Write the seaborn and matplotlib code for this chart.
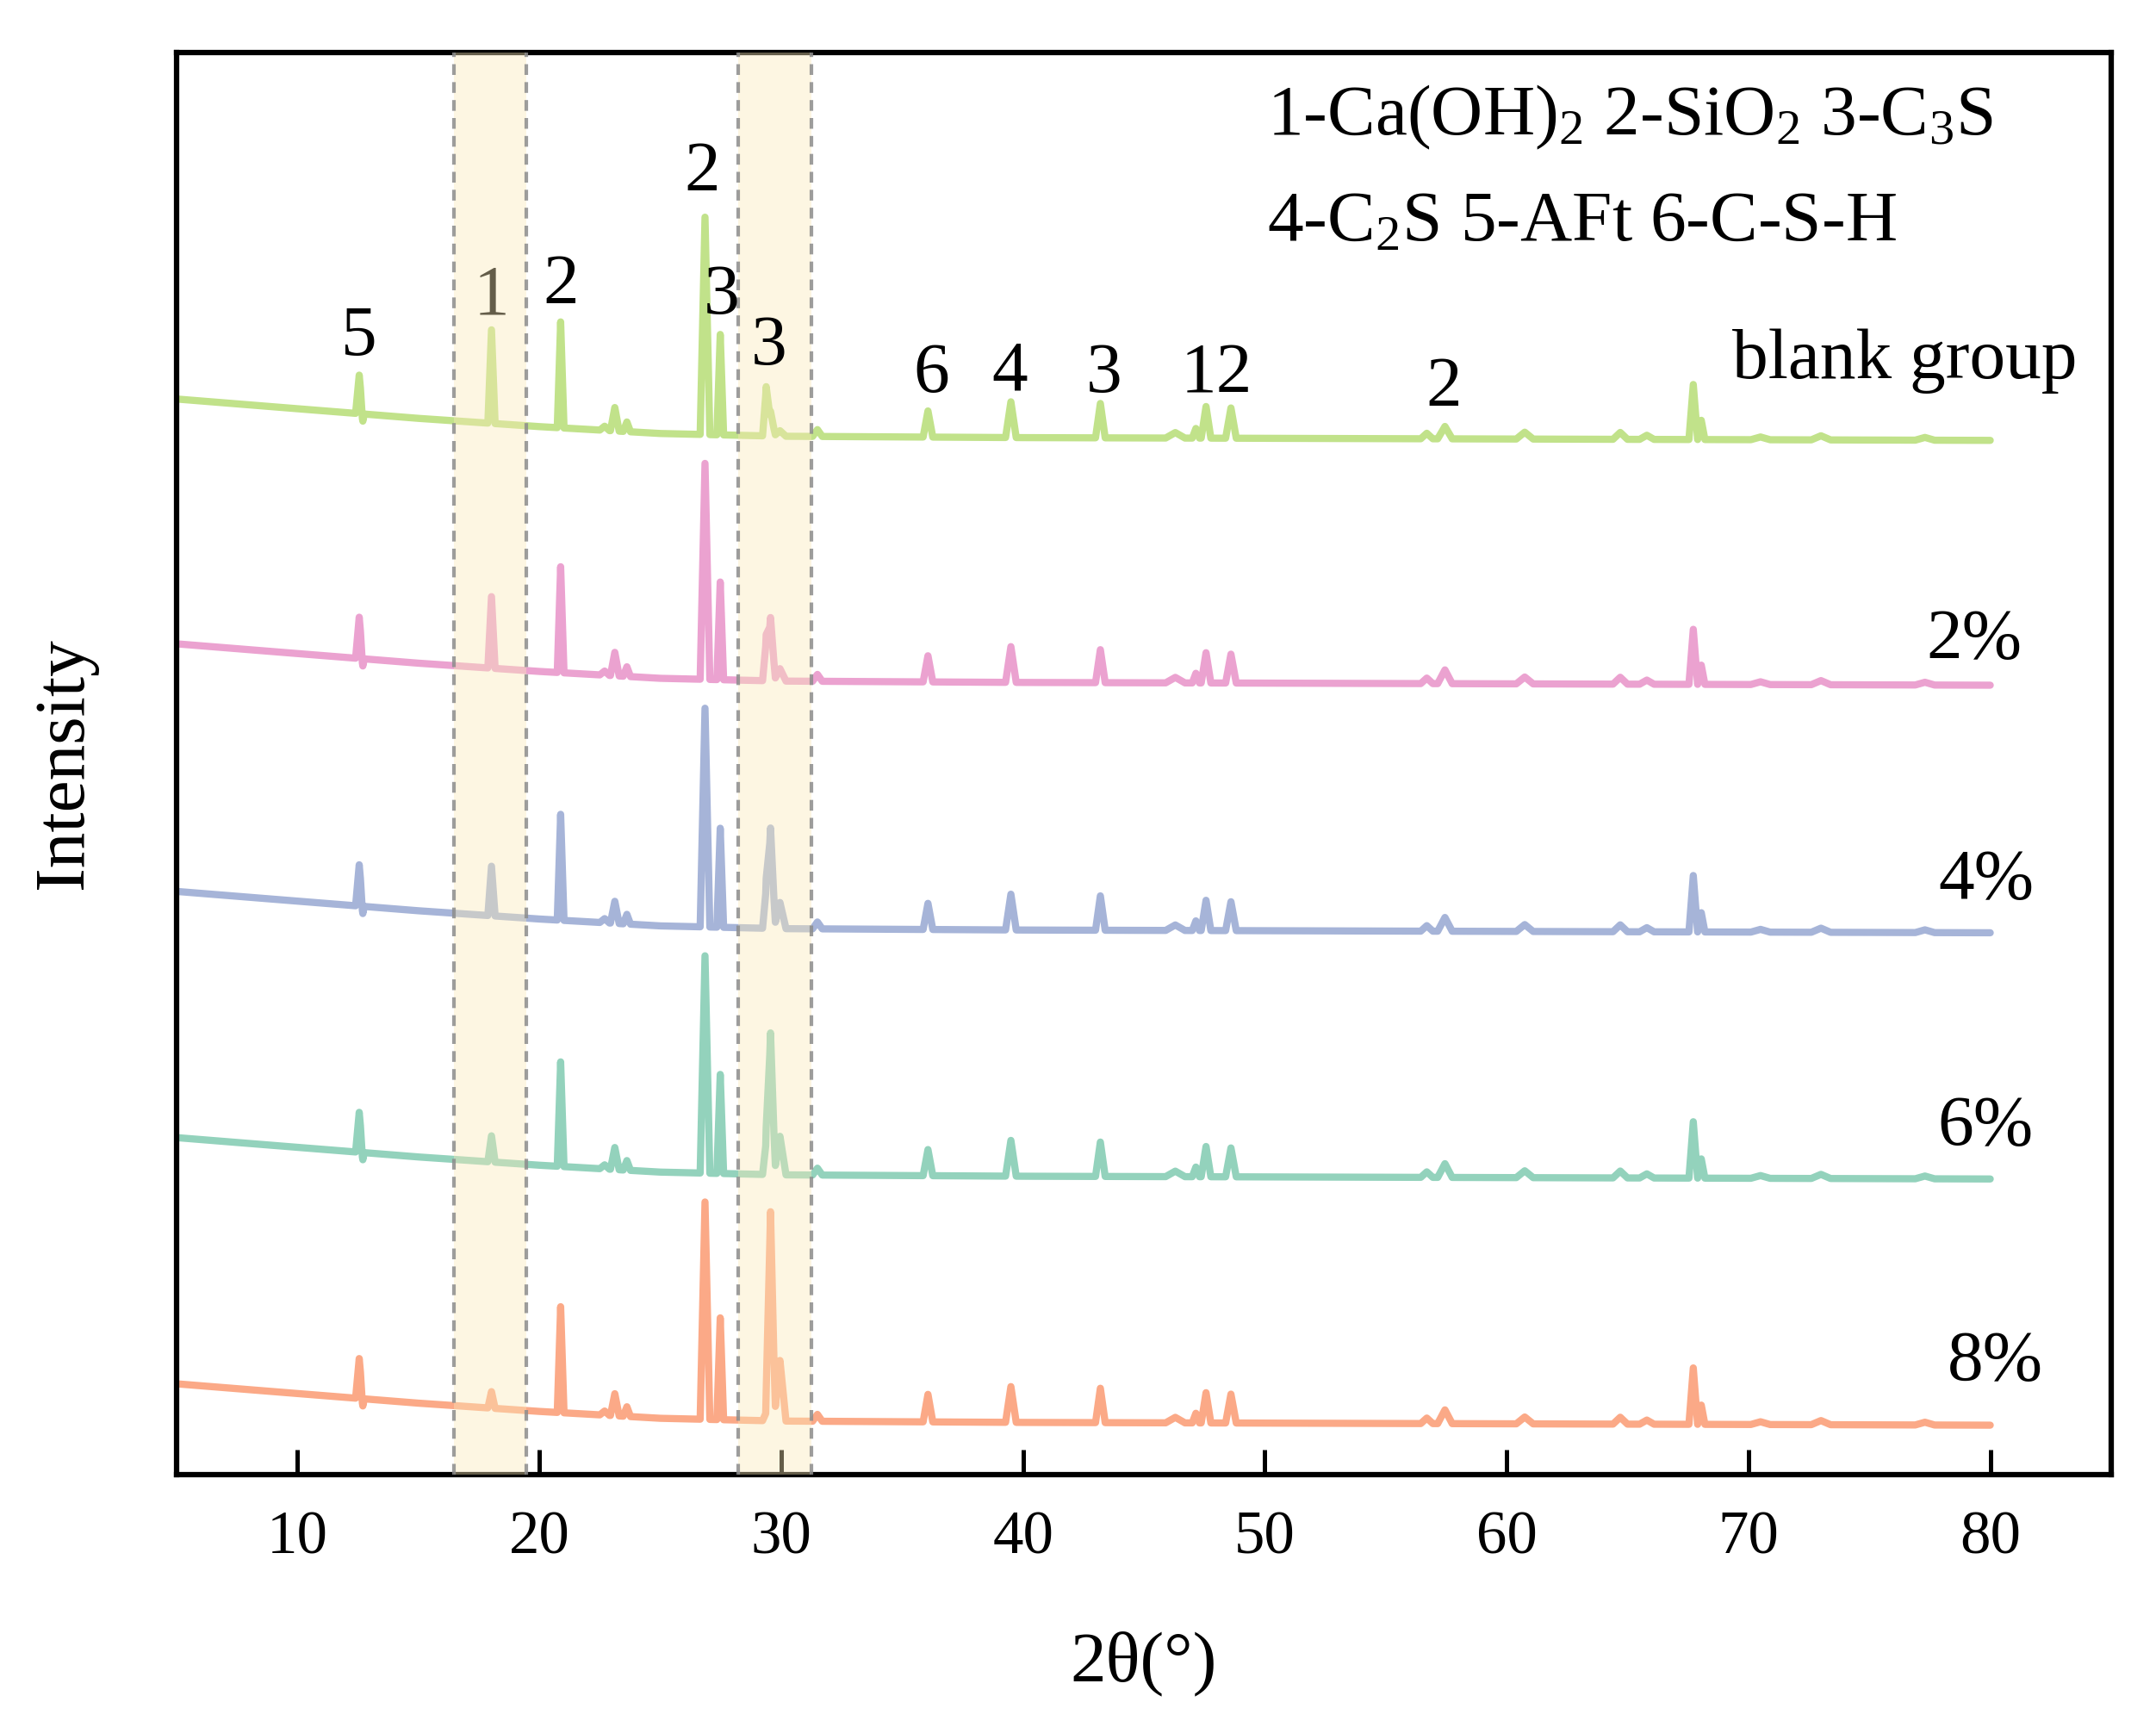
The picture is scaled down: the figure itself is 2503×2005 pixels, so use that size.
import numpy as np
import pandas as pd
import matplotlib
matplotlib.use("Agg")
import matplotlib.pyplot as plt
import seaborn as sns

# --- data (y in arbitrary offset intensity units) ---
groups = ["blank group", "2%", "4%", "6%", "8%"]
offsets = [0, 178, 358, 537, 716]

base_x = [5.05, 10, 15, 20, 25, 30, 40, 60, 80]
base_y = [782, 775, 768, 762, 757, 755, 754, 753, 752]

peak_pos = [12.55, 12.68, 18.02, 20.88, 22.7, 23.12, 23.62, 26.85, 27.48, 29.38,
            29.56, 29.95, 31.5, 36.07, 39.5, 43.2, 46.3, 47.15, 47.57, 48.6,
            56.7, 57.45, 60.75, 64.7, 65.8, 67.72, 68.05, 70.5, 73.0, 77.3]
peak_hw = [0.15, 0.08, 0.15, 0.14, 0.2, 0.18, 0.15, 0.2, 0.14, 0.15,
           0.2, 0.25, 0.2, 0.2, 0.22, 0.2, 0.4, 0.15, 0.2, 0.22,
           0.25, 0.3, 0.35, 0.3, 0.3, 0.18, 0.15, 0.4, 0.4, 0.4]

h_blank = [28, -7, 68, 77, 3, 17, 7, 158, 73, 34, 18, 4, 5, 19, 26, 25, 4, 7, 23, 22, 4, 9, 5, 5, 3, 40, 14, 2, 3, 2]
h_2 = [30, -7, 52, 77, 3, 17, 7, 157, 71, 29, 46, 9, 5, 19, 26, 24, 4, 7, 22, 21, 4, 10, 5, 5, 3, 40, 14, 2, 3, 2]
h_4 = [30, -7, 36, 77, 3, 16, 7, 159, 72, 29, 73, 19, 5, 19, 26, 25, 4, 7, 22, 21, 4, 10, 5, 5, 3, 41, 14, 2, 3, 2]
h_6 = [29, -7, 19, 76, 3, 16, 7, 158, 72, 24, 103, 28, 5, 19, 26, 25, 4, 7, 22, 21, 4, 10, 5, 5, 3, 41, 14, 2, 3, 2]
h_8 = [29, -7, 12, 77, 3, 16, 7, 158, 74, 6, 152, 44, 5, 20, 26, 25, 4, 7, 22, 21, 4, 10, 5, 5, 3, 41, 14, 2, 3, 2]
heights = [h_blank, h_2, h_4, h_6, h_8]

bands = [(16.47, 19.46), (28.22, 31.25)]

peak_labels = ["5", "1", "2", "2", "3", "3", "6", "4", "3", "12", "2"]
label_x = [12.55, 18.02, 20.9, 26.75, 27.55, 29.5, 36.2, 39.45, 43.35, 48.0, 57.4]
label_y = [814, 844, 852, 934, 844, 807, 787, 789, 787, 787, 777]
# only the "1" sits underneath the shaded band in the reference
label_under_band = [False, True, False, False, False, False, False, False, False, False, False]

group_label_x = [83.6, 81.3, 81.8, 81.8, 82.2]
group_label_y = [797, 594, 419, 240, 69]

colors = ["#C1E28A", "#EBA2D0", "#A6B4D8", "#93D2BC", "#FBA987"]

# --- build the digitised polylines (vertices at baseline anchors, peak feet and apexes) ---
rows = []
pos = np.array(peak_pos)
hw = np.array(peak_hw)
vx = np.unique(np.concatenate([base_x, pos, pos - hw, pos + hw]))
vx = vx[(vx >= base_x[0]) & (vx <= base_x[-1])]
for g, off, h in zip(groups, offsets, heights):
    yb = np.interp(vx, base_x, base_y) - off
    tri = np.clip(1 - np.abs(vx[:, None] - pos[None, :]) / hw[None, :], 0, None)
    yv = yb + tri @ np.array(h, dtype=float)
    rows.append(pd.DataFrame({"two_theta": vx, "intensity": yv, "group": g}))
df = pd.concat(rows, ignore_index=True)

# --- plot ---
sns.set_theme(style="white")
plt.rcParams["font.family"] = ["Liberation Serif", "DejaVu Serif"]
plt.rcParams["mathtext.fontset"] = "custom"
plt.rcParams["mathtext.rm"] = "Liberation Serif"
plt.rcParams["mathtext.it"] = "Liberation Serif:italic"
plt.rcParams["text.color"] = "black"
plt.rcParams["axes.labelcolor"] = "black"
plt.rcParams["xtick.color"] = "black"

fig = plt.figure(figsize=(2504 / 300, 2005 / 300), dpi=300)
ax = fig.add_axes([0.0819, 0.1461, 0.8969, 0.8235])

sns.lineplot(data=df, x="two_theta", y="intensity", hue="group",
             palette=dict(zip(groups, colors)), estimator=None, sort=False,
             linewidth=2.0, legend=False, ax=ax)

for lo, hi in bands:
    ax.axvspan(lo, hi, facecolor="#FBE9B7", alpha=0.4, edgecolor="none", zorder=4)
    for xv in (lo, hi):
        ax.axvline(xv, color="#8C8C8C", lw=1.0, ls=(0, (3, 2)), alpha=0.85, zorder=4)

for t, x, y, under in zip(peak_labels, label_x, label_y, label_under_band):
    ax.text(x, y, t, ha="center", va="baseline", fontsize=20,
            zorder=3 if under else 5)

for t, x, y in zip(groups, group_label_x, group_label_y):
    ax.text(x, y, t, ha="right", va="baseline", fontsize=20)

ax.text(50.1, 974, "1-Ca(OH)$_\\mathrm{2}$ 2-SiO$_\\mathrm{2}$ 3-C$_\\mathrm{3}$S",
        ha="left", va="baseline", fontsize=20)
ax.text(50.1, 897, "4-C$_\\mathrm{2}$S 5-AFt 6-C-S-H",
        ha="left", va="baseline", fontsize=20)

ax.set_xlim(5, 85)
ax.set_ylim(0, 1034)
ax.set_xticks(range(10, 81, 10))
ax.set_yticks([])
ax.tick_params(axis="x", direction="in", length=7, width=1.2, pad=10,
               labelsize=17, bottom=True, top=False, colors="black")
for s in ax.spines.values():
    s.set_linewidth(1.5)
    s.set_color("black")
ax.set_xlabel("2θ(°)", fontsize=20, labelpad=18)
ax.set_ylabel("Intensity", fontsize=20, labelpad=22)

fig.savefig("out.png", dpi=300)
